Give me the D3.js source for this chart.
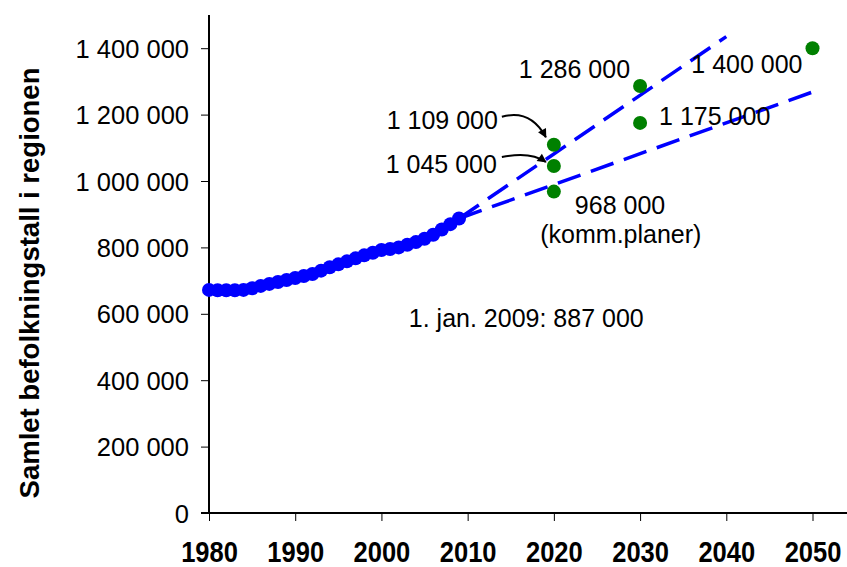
<!DOCTYPE html>
<html>
<head>
<meta charset="utf-8">
<script src="https://cdn.jsdelivr.net/npm/d3@7"></script>
<style>
  body { margin: 0; background: #fff; }
  svg { display: block; }
</style>
</head>
<body>
<svg id="chart" width="847" height="567"></svg>
<script>
// Registered population, 1 January each year
const historyYears = d3.range(1980, 2010);
const historyValues = [
  672000, 671000, 671000, 671000, 672000, 677000, 684000, 690000, 696000, 702000,
  708000, 714000, 720000, 730000, 740000, 749000, 758000, 767000, 776000, 784000,
  792000, 795000, 800000, 808000, 816000, 826000, 838000, 854000, 870000, 887000
];

// Forecast points
const forecastYears  = [2020, 2020, 2020, 2030, 2030, 2050];
const forecastValues = [1109000, 1045000, 968000, 1286000, 1175000, 1400000];
const forecastLabels = ["1 109 000", "1 045 000", "968 000", "1 286 000", "1 175 000", "1 400 000"];

// Trend extrapolations from 2009
const trendHighYears  = [2009, 2040];
const trendHighValues = [887000, 1435000];
const trendLowYears   = [2009, 2050];
const trendLowValues  = [887000, 1268000];

const xTickValues = [1980, 1990, 2000, 2010, 2020, 2030, 2040, 2050];
const yTickValues = [0, 200000, 400000, 600000, 800000, 1000000, 1200000, 1400000];

const yTitle = "Samlet befolkningstall i regionen";
const noteText = "1. jan. 2009: 887 000";
const planNote = "(komm.planer)";

// ---------------------------------------------------------------
const svg = d3.select("#chart");
const font = "'Liberation Sans', Arial, sans-serif";

const x = d3.scaleLinear().domain([1980, 2054]).range([209, 847]);
const y = d3.scaleLinear().domain([0, 1500000]).range([513, 15]);

const nb = d3.formatLocale({ decimal: ",", thousands: " ", grouping: [3], currency: ["", " kr"] });
const fmt = nb.format(",d");

// y axis
const yAxis = svg.append("g")
  .attr("transform", `translate(${x(1980)},0)`)
  .call(d3.axisLeft(y).tickValues(yTickValues).tickFormat(fmt).tickSizeOuter(0).tickSize(8).tickPadding(12));
yAxis.select(".domain").attr("stroke", "#000").attr("stroke-width", 2)
  .attr("d", `M0,${y(1500000)}V${y(0)}`);
yAxis.selectAll(".tick line").attr("stroke", "#000").attr("stroke-width", 1);
yAxis.selectAll(".tick text")
  .attr("font-family", font).attr("font-size", 25.5).attr("fill", "#000")
  .attr("dy", "0.36em");

// x axis (condensed bold year labels)
const xAxis = svg.append("g")
  .attr("transform", `translate(0,${y(0)})`)
  .call(d3.axisBottom(x).tickValues(xTickValues).tickFormat(d3.format("d")).tickSizeOuter(0).tickSize(8).tickPadding(0));
xAxis.select(".domain").attr("stroke", "#000").attr("stroke-width", 2)
  .attr("d", `M${x(1980) - 8},0H847`);
xAxis.selectAll(".tick line").attr("stroke", "#000").attr("stroke-width", 1);
xAxis.selectAll(".tick text")
  .attr("font-family", font)
  .attr("font-size", 30).attr("font-weight", "bold").attr("fill", "#000")
  .attr("y", 0).attr("dy", 0)
  .attr("transform", "translate(0,49) scale(0.85,1)");

// y title
svg.append("text")
  .attr("transform", `translate(39,283) rotate(-90)`)
  .attr("text-anchor", "middle")
  .attr("font-family", font).attr("font-size", 27.5).attr("font-weight", "bold")
  .text(yTitle);

// trend lines
const trendLine = d3.line().x(d => x(d[0])).y(d => y(d[1]));
[[trendHighYears, trendHighValues], [trendLowYears, trendLowValues]].forEach(([ys, vs]) => {
  svg.append("path")
    .attr("d", trendLine(d3.zip(ys, vs)))
    .attr("fill", "none").attr("stroke", "#0000ff").attr("stroke-width", 3.5)
    .attr("stroke-dasharray", "24,11");
});

// history series
const hist = d3.zip(historyYears, historyValues);
svg.append("path")
  .attr("d", trendLine(hist))
  .attr("fill", "none").attr("stroke", "#0000ff").attr("stroke-width", 4);
svg.append("g").selectAll("circle").data(hist).join("circle")
  .attr("cx", d => x(d[0])).attr("cy", d => y(d[1])).attr("r", 7)
  .attr("fill", "#0000ff");

// forecast points
const fc = forecastYears.map((yr, i) => ({ yr, v: forecastValues[i], label: forecastLabels[i] }));
svg.append("g").selectAll("circle").data(fc).join("circle")
  .attr("cx", d => x(d.yr)).attr("cy", d => y(d.v)).attr("r", 7)
  .attr("fill", "#008000");

// label placement relative to each point: [dx, dy, anchor]
const placement = [
  [-56, -15.5, "end"],
  [-57, 6.7, "end"],
  [21, 22.4, "start"],
  [-10, -7.7, "end"],
  [19, 2.1, "start"],
  [-10, 25, "end"]
];
svg.append("g").selectAll("text").data(fc).join("text")
  .attr("x", (d, i) => x(d.yr) + placement[i][0])
  .attr("y", (d, i) => y(d.v) + placement[i][1])
  .attr("text-anchor", (d, i) => placement[i][2])
  .attr("font-family", font).attr("font-size", 25).attr("fill", "#000")
  .text(d => d.label);

svg.append("text")
  .attr("x", x(2020) + 67).attr("y", y(968000) + 51)
  .attr("text-anchor", "middle")
  .attr("font-family", font).attr("font-size", 25)
  .text(planNote);

svg.append("text")
  .attr("x", x(2016.8)).attr("y", y(560000))
  .attr("text-anchor", "middle")
  .attr("font-family", font).attr("font-size", 25)
  .text(noteText);

// curved pointers to the two upper 2020 points
svg.append("defs").append("marker")
  .attr("id", "head").attr("viewBox", "0 0 10 10")
  .attr("refX", 9).attr("refY", 5)
  .attr("markerWidth", 11).attr("markerHeight", 9)
  .attr("markerUnits", "userSpaceOnUse")
  .attr("orient", "auto")
  .append("path").attr("d", "M0,0L10,5L0,10z").attr("fill", "#000");

[[0, -52, -28, 8, -8, -7.5], [1, -52, -9, 6, -8, -4]].forEach(([i, sx, sy, bend, ex, ey]) => {
  const px = x(fc[i].yr), py = y(fc[i].v);
  const x0 = px + sx, y0 = py + sy, x1 = px + ex, y1 = py + ey;
  const cx = x0 + (x1 - x0) * 0.65, cy = Math.min(y0, y1) - bend;
  svg.append("path")
    .attr("d", `M${x0},${y0}Q${cx},${cy} ${x1},${y1}`)
    .attr("fill", "none").attr("stroke", "#000").attr("stroke-width", 2)
    .attr("marker-end", "url(#head)");
});
</script>
</body>
</html>
